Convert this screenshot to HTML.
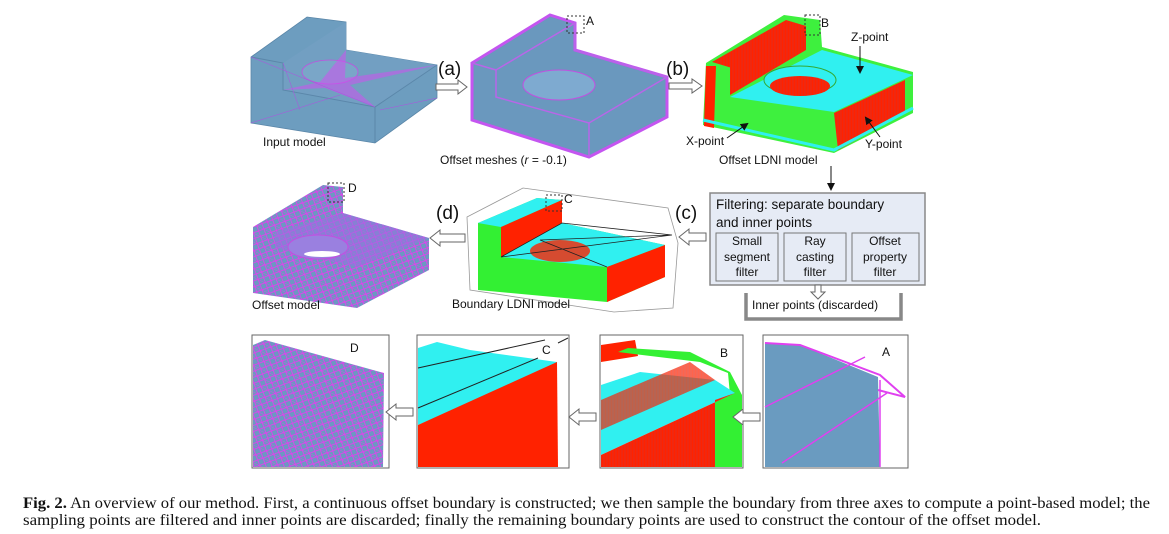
<!DOCTYPE html>
<html><head><meta charset="utf-8"><style>
html,body{margin:0;padding:0;background:#fff;}
svg{display:block;}
.l{font-family:"Liberation Sans",sans-serif;font-size:12px;fill:#111;}
.p{font-family:"Liberation Sans",sans-serif;font-size:19px;fill:#111;}
.f{font-family:"Liberation Sans",sans-serif;font-size:13.5px;fill:#111;}
.s{font-family:"Liberation Sans",sans-serif;font-size:12px;fill:#111;text-anchor:middle;}
.c{font-family:"Liberation Serif",serif;font-size:15.5px;fill:#111;}
</style></head><body>
<svg width="1169" height="534" viewBox="0 0 1169 534">
<defs>
<marker id="ah" markerWidth="8" markerHeight="8" refX="6" refY="4" orient="auto"><path d="M0,0 L8,4 L0,8z" fill="#111"/></marker>
<pattern id="grid" width="8" height="8" patternUnits="userSpaceOnUse" patternTransform="rotate(25)"><rect width="8" height="8" fill="#6c98c2"/><path d="M0,0 L8,8 M0,8 L8,0 M0,0 H8" stroke="#e83cf0" stroke-width="0.8"/></pattern>
<pattern id="redl" width="3" height="10" patternUnits="userSpaceOnUse"><rect width="3" height="10" fill="#ff2200"/><path d="M1,0V10" stroke="#c33" stroke-width="0.6"/></pattern>
</defs>

<!-- Input model -->
<g>
<polygon points="251,57 307,17 346,22 346,50 437,65 437,98 375,143 251,123" fill="#6d9dbf" stroke="#5a86a8" stroke-width="0.8"/>
<polygon points="283,63 346,22 346,50 437,65 375,107 283,90" fill="#729fc2"/>
<polyline points="251,57 283,63 283,90 375,107 437,65" fill="none" stroke="#5b87aa" stroke-width="1"/>
<line x1="375" y1="107" x2="375" y2="143" stroke="#5b87aa"/>
<ellipse cx="330" cy="72" rx="28" ry="12" fill="#7aa6c8" stroke="#c050e0" stroke-width="0.8"/>
<path d="M283,90 L320,82 L346,50 L345,78 L437,65 L350,85 L375,107 L325,88 Z" fill="#d050f0" opacity="0.55"/>
<path d="M251,57 L375,107 M251,123 L340,95 M283,63 L300,110 M437,98 L380,110" stroke="#b050e0" stroke-width="0.5" fill="none"/>
</g>
<text class="l" x="263" y="146">Input model</text>

<!-- arrow a -->
<g>
<path d="M436,84 H458 V80 L467,87 L458,94 V90 H436 Z" fill="#fff" stroke="#666"/>
<text class="p" x="438" y="75">(a)</text>
</g>

<!-- Offset meshes -->
<g>
<polygon points="472,63 550,15 575,23 575,50 667,77 667,117 589,157 472,120" fill="#6a98be" stroke="#c455f0" stroke-width="3"/>
<polyline points="496,70 575,23 575,50 667,77 589,123 496,97 496,70" fill="none" stroke="#b866e8" stroke-width="1.5"/>
<line x1="589" y1="123" x2="589" y2="157" stroke="#b866e8" stroke-width="1.5"/>
<line x1="472" y1="63" x2="496" y2="70" stroke="#b866e8" stroke-width="1.5"/>
<ellipse cx="559" cy="85" rx="36" ry="15" fill="#7eaad0" stroke="#c050e0" stroke-width="1"/>
<rect x="567" y="16" width="17" height="17" fill="none" stroke="#333" stroke-dasharray="2,2"/>
<text class="l" x="586" y="25">A</text>
</g>
<text class="l" x="440" y="164">Offset meshes (<tspan font-style="italic">r</tspan> = -0.1)</text>

<g>
<path d="M669,83 H692 V79 L702,86 L692,93 V89 H669 Z" fill="#fff" stroke="#666"/>
<text class="p" x="666" y="75">(b)</text>
</g>

<!-- Offset LDNI -->
<g>
<polygon points="706,63 784,15 820,20 822,47 913,72 913,113 834,153 703,125" fill="#3ef03e"/>
<polygon points="712,62 786,20 806,26 732,68" fill="url(#redl)"/>
<polygon points="730,60 806,26 806,50 730,95" fill="url(#redl)"/>
<polygon points="730,97 822,50 913,75 834,112" fill="#30f0f0"/>
<polygon points="834,113 905,80 905,113 838,150" fill="url(#redl)"/>
<polygon points="706,66 716,66 714,128 704,126" fill="#ff2200"/>
<ellipse cx="800" cy="80" rx="36" ry="14" fill="#30f0f0" stroke="#3a3" stroke-width="1"/>
<ellipse cx="800" cy="86" rx="30" ry="10" fill="url(#redl)"/>
<path d="M703,120 L834,150 L913,108" stroke="#30f0f0" stroke-width="3" fill="none"/>
<rect x="805" y="15" width="15" height="20" fill="none" stroke="#333" stroke-dasharray="2,2"/>
<text class="l" x="821" y="27">B</text>
<text class="l" x="851" y="41">Z-point</text>
<line x1="860" y1="46" x2="860" y2="72" stroke="#111" marker-end="url(#ah)"/>
<text class="l" x="686" y="145">X-point</text>
<line x1="727" y1="138" x2="747" y2="124" stroke="#111" marker-end="url(#ah)"/>
<text class="l" x="865" y="148">Y-point</text>
<line x1="880" y1="137" x2="866" y2="118" stroke="#111" marker-end="url(#ah)"/>
</g>
<text class="l" x="719" y="164">Offset LDNI model</text>
<line x1="831" y1="166" x2="831" y2="189" stroke="#111" marker-end="url(#ah)"/>

<!-- Filter box -->
<g>
<rect x="710" y="193" width="215" height="92" fill="#e6ebf5" stroke="#888" stroke-width="1.5"/>
<text class="f" x="716" y="209">Filtering: separate boundary</text>
<text class="f" x="716" y="227">and inner points</text>
<g><rect x="716" y="233" width="62" height="48" fill="#e6ebf5" stroke="#777"/>
<text class="s" x="747" y="245">Small</text><text class="s" x="747" y="261">segment</text><text class="s" x="747" y="276">filter</text></g>
<g><rect x="784" y="233" width="62" height="48" fill="#e6ebf5" stroke="#777"/>
<text class="s" x="815" y="245">Ray</text><text class="s" x="815" y="261">casting</text><text class="s" x="815" y="276">filter</text></g>
<g><rect x="852" y="233" width="67" height="48" fill="#e6ebf5" stroke="#777"/>
<text class="s" x="885" y="245">Offset</text><text class="s" x="885" y="261">property</text><text class="s" x="885" y="276">filter</text></g>
</g>
<path d="M815,285 H821 V292 H825 L818,299 L811,292 H815 Z" fill="#fff" stroke="#666"/>
<path d="M746,293 V319 H901 V293" fill="none" stroke="#888" stroke-width="3.5"/>
<text class="l" x="752" y="309">Inner points (discarded)</text>

<!-- arrow c -->
<g>
<path d="M706,233 H689 V229 L679,237 L689,245 V241 H706 Z" fill="#fff" stroke="#666"/>
<text class="p" x="675" y="219">(c)</text>
</g>

<!-- Boundary LDNI -->
<g>
<polygon points="467,217 523,188 668,208 678,243 673,308 614,312 470,290" fill="none" stroke="#999" stroke-width="0.8"/>
<polygon points="478,223 537,198 562,200 562,223 665,245 665,277 607,302 478,290" fill="#33f033"/>
<polygon points="478,223 537,198 562,200 501,227" fill="#30f0f0"/>
<polygon points="501,227 562,200 562,223 501,257" fill="#ff2200"/>
<polygon points="501,257 562,223 665,245 607,267" fill="#30f0f0"/>
<polygon points="607,267 665,245 665,277 607,302" fill="#ff2200"/>
<ellipse cx="560" cy="251" rx="30" ry="11" fill="#ff2200" opacity="0.8"/>
<path d="M501,257 L562,223 L672,235 L540,240 L607,267 M501,257 L672,235" stroke="#222" stroke-width="0.8" fill="none"/>
<rect x="546" y="195" width="16" height="16" fill="none" stroke="#333" stroke-dasharray="2,2"/>
<text class="l" x="564" y="203">C</text>
</g>
<text class="l" x="452" y="308">Boundary LDNI model</text>

<g>
<path d="M465,234 H440 V230 L430,238 L440,246 V242 H465 Z" fill="#fff" stroke="#666"/>
<text class="p" x="436" y="219">(d)</text>
</g>

<!-- Offset model -->
<g>
<polygon points="253,227 323,185 343,187 343,213 429,238 429,270 357,308 253,293" fill="url(#grid)"/>
<polygon points="275,232 343,213 429,238 357,267 275,248" fill="#9a70e0" opacity="0.6"/>
<ellipse cx="318" cy="247" rx="30" ry="12" fill="#9a80e0" stroke="#c050e0"/>
<ellipse cx="322" cy="254" rx="18" ry="3" fill="#fff"/>
<rect x="328" y="183" width="16" height="19" fill="none" stroke="#333" stroke-dasharray="2,2"/>
<text class="l" x="348" y="192">D</text>
</g>
<text class="l" x="252" y="309">Offset model</text>

<!-- Bottom detail panels -->
<g>
<rect x="252" y="335" width="137" height="133" fill="#fff" stroke="#666"/>
<polygon points="253,345 265,340 384,373 383,467 253,467" fill="url(#grid)"/>
<text class="l" x="350" y="352">D</text>
</g>
<path d="M413,408 H396 V404 L386,412 L396,420 V416 H413 Z" fill="#fff" stroke="#666"/>
<g>
<rect x="417" y="335" width="152" height="133" fill="#fff" stroke="#666"/>
<polygon points="418,348 437,342 470,350 557,362 557,366 418,425" fill="#30f0f0"/>
<polygon points="418,425 557,362 558,467 418,467" fill="#ff2200"/>
<line x1="418" y1="368" x2="545" y2="340" stroke="#222"/>
<line x1="418" y1="408" x2="538" y2="358" stroke="#222"/>
<line x1="558" y1="343" x2="568" y2="338" stroke="#222"/>
<text class="l" x="542" y="354">C</text>
</g>
<path d="M596,413 H579 V409 L569,417 L579,425 V421 H596 Z" fill="#fff" stroke="#666"/>
<g>
<rect x="600" y="335" width="143" height="133" fill="#fff" stroke="#666"/>
<polygon points="601,345 635,340 638,356 601,362" fill="#ff2200"/>
<polygon points="618,352 700,362 728,373 730,395 715,398 715,467 742,467 742,395 730,372 690,352 628,348" fill="#33f033"/>
<polygon points="601,385 640,372 715,380 735,393 601,455" fill="#30f0f0"/>
<polygon points="601,455 735,393 715,400 715,467 601,467" fill="url(#redl)"/>
<polygon points="601,400 690,362 715,380 601,430" fill="url(#redl)" opacity="0.7"/>
<text class="l" x="720" y="357">B</text>
</g>
<path d="M760,413 H743 V409 L733,417 L743,425 V421 H760 Z" fill="#fff" stroke="#666"/>
<g>
<rect x="763" y="335" width="145" height="133" fill="#fff" stroke="#666"/>
<polygon points="765,343 800,345 878,377 880,467 765,467" fill="#6a9bc0"/>
<path d="M765,343 L800,345 L880,375 L905,397 L878,390" fill="none" stroke="#e040f0" stroke-width="2"/>
<line x1="765" y1="407" x2="865" y2="357" stroke="#e040f0" stroke-width="1.5"/>
<line x1="782" y1="463" x2="887" y2="393" stroke="#e040f0" stroke-width="1.5"/>
<line x1="880" y1="380" x2="880" y2="467" stroke="#e040f0" stroke-width="1.5"/>
<text class="l" x="882" y="356">A</text>
</g>

<!-- Caption -->
<g>
<text class="c" x="23" y="508" textLength="1127" lengthAdjust="spacingAndGlyphs"><tspan font-weight="bold">Fig. 2.</tspan>   An overview of our method. First, a continuous offset boundary is constructed; we then sample the boundary from three axes to compute a point-based model; the</text>
<text class="c" x="23" y="525" textLength="1018" lengthAdjust="spacingAndGlyphs">sampling points are filtered and inner points are discarded; finally the remaining boundary points are used to construct the contour of the offset model.</text>
</g>
</svg>
</body></html>
